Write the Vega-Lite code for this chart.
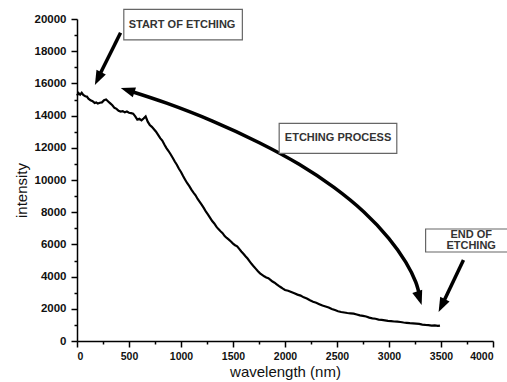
{
  "$schema": "https://vega.github.io/schema/vega-lite/v6.json",
  "width": 416,
  "height": 322,
  "autosize": "none",
  "padding": {"left": 77, "top": 19, "right": 14, "bottom": 41},
  "background": "white",
  "config": {
    "view": {"stroke": null},
    "font": "Liberation Sans",
    "axis": {"grid": false, "labelOverlap": false, "domainColor": "black", "domainWidth": 1.5, "tickColor": "black", "tickWidth": 1.5, "labelFont": "Liberation Sans", "labelFontWeight": "bold", "labelColor": "#111", "titleFont": "Liberation Sans", "titleFontWeight": "normal", "titleColor": "#111", "titleFontSize": 15}
  },
  "encoding": {
    "x": {"field": "x", "type": "quantitative", "title": "wavelength (nm)",
      "scale": {"domain": [0, 4000], "nice": false},
      "axis": {"values": [0,250,500,750,1000,1250,1500,1750,2000,2250,2500,2750,3000,3250,3500,3750,4000],
        "format": "d", "labelFontSize": 10.5, "labelPadding": 4, "titlePadding": 3, "labelOverlap": false,
        "labelOpacity": {"condition": {"test": "datum.value % 500 !== 0", "value": 0}, "value": 1},
        "tickSize": {"condition": {"test": "datum.value % 500 !== 0", "value": 3}, "value": 6}}},
    "y": {"field": "y", "type": "quantitative", "title": "intensity",
      "scale": {"domain": [0, 20000], "nice": false},
      "axis": {"values": [0,1000,2000,3000,4000,5000,6000,7000,8000,9000,10000,11000,12000,13000,14000,15000,16000,17000,18000,19000,20000],
        "format": "d", "labelFontSize": 11.5, "labelPadding": 5, "titlePadding": 5, "titleY": 171, "labelOverlap": false,
        "labelOpacity": {"condition": {"test": "datum.value % 2000 !== 0", "value": 0}, "value": 1},
        "tickSize": {"condition": {"test": "datum.value % 2000 !== 0", "value": 3}, "value": 6}}}
  },
  "layer": [
    {
      "data": {"values": [
        {"x":0,"y":15250},{"x":15,"y":15400},{"x":30,"y":15300},{"x":45,"y":15420},{"x":60,"y":15280},{"x":80,"y":15200},{"x":95,"y":15180},{"x":110,"y":15050},{"x":130,"y":14950},{"x":150,"y":14900},{"x":170,"y":14780},{"x":185,"y":14820},{"x":200,"y":14750},{"x":220,"y":14800},{"x":240,"y":14820},{"x":260,"y":14950},{"x":280,"y":15000},{"x":300,"y":14880},{"x":320,"y":14760},{"x":340,"y":14640},{"x":360,"y":14480},{"x":380,"y":14420},{"x":400,"y":14300},{"x":420,"y":14250},{"x":440,"y":14280},{"x":460,"y":14200},{"x":480,"y":14250},{"x":500,"y":14180},{"x":520,"y":14150},{"x":540,"y":14120},{"x":560,"y":13950},{"x":580,"y":13750},{"x":600,"y":13800},{"x":620,"y":13700},{"x":640,"y":13820},{"x":660,"y":13950},{"x":680,"y":13620},{"x":700,"y":13420},{"x":720,"y":13300},{"x":740,"y":13150},{"x":760,"y":13000},{"x":780,"y":12800},{"x":800,"y":12600},{"x":820,"y":12450},{"x":840,"y":12200},{"x":860,"y":11980},{"x":880,"y":11800},{"x":900,"y":11600},{"x":920,"y":11380},{"x":940,"y":11150},{"x":960,"y":10950},{"x":980,"y":10700},{"x":1000,"y":10500},{"x":1020,"y":10250},{"x":1040,"y":10020},{"x":1060,"y":9800},{"x":1080,"y":9620},{"x":1100,"y":9400},{"x":1120,"y":9220},{"x":1140,"y":9050},{"x":1160,"y":8820},{"x":1180,"y":8640},{"x":1200,"y":8450},{"x":1220,"y":8250},{"x":1240,"y":8030},{"x":1260,"y":7850},{"x":1280,"y":7650},{"x":1300,"y":7450},{"x":1320,"y":7300},{"x":1340,"y":7100},{"x":1360,"y":6950},{"x":1380,"y":6820},{"x":1400,"y":6700},{"x":1420,"y":6520},{"x":1440,"y":6400},{"x":1460,"y":6300},{"x":1480,"y":6180},{"x":1500,"y":6050},{"x":1520,"y":5950},{"x":1540,"y":5880},{"x":1560,"y":5720},{"x":1580,"y":5560},{"x":1600,"y":5420},{"x":1620,"y":5260},{"x":1640,"y":5120},{"x":1660,"y":4950},{"x":1680,"y":4780},{"x":1700,"y":4620},{"x":1720,"y":4480},{"x":1740,"y":4330},{"x":1760,"y":4200},{"x":1780,"y":4110},{"x":1800,"y":4020},{"x":1820,"y":3950},{"x":1840,"y":3900},{"x":1860,"y":3800},{"x":1880,"y":3690},{"x":1900,"y":3620},{"x":1920,"y":3520},{"x":1940,"y":3420},{"x":1960,"y":3340},{"x":1980,"y":3250},{"x":2000,"y":3170},{"x":2030,"y":3120},{"x":2060,"y":3040},{"x":2090,"y":2960},{"x":2120,"y":2880},{"x":2150,"y":2820},{"x":2180,"y":2710},{"x":2210,"y":2640},{"x":2240,"y":2530},{"x":2270,"y":2440},{"x":2300,"y":2380},{"x":2330,"y":2290},{"x":2360,"y":2200},{"x":2390,"y":2140},{"x":2420,"y":2080},{"x":2450,"y":1990},{"x":2480,"y":1920},{"x":2510,"y":1850},{"x":2540,"y":1800},{"x":2570,"y":1770},{"x":2600,"y":1740},{"x":2630,"y":1720},{"x":2660,"y":1700},{"x":2690,"y":1650},{"x":2720,"y":1590},{"x":2750,"y":1560},{"x":2780,"y":1520},{"x":2810,"y":1450},{"x":2840,"y":1410},{"x":2870,"y":1380},{"x":2900,"y":1330},{"x":2930,"y":1310},{"x":2960,"y":1280},{"x":2990,"y":1250},{"x":3020,"y":1230},{"x":3050,"y":1210},{"x":3080,"y":1200},{"x":3110,"y":1180},{"x":3140,"y":1150},{"x":3170,"y":1130},{"x":3200,"y":1110},{"x":3230,"y":1100},{"x":3260,"y":1080},{"x":3290,"y":1060},{"x":3320,"y":1020},{"x":3350,"y":1000},{"x":3380,"y":990},{"x":3410,"y":960},{"x":3440,"y":970},{"x":3470,"y":940},{"x":3490,"y":960}
      ]},
      "mark": {"type": "line", "color": "black", "strokeWidth": 2.2}
    },
    {
      "data": {"values": [
        {"arrow":"start","i":0,"x":419,"y":19149},{"arrow":"start","i":1,"x":206,"y":16385},
        {"arrow":"process","i":0,"x":494,"y":15559},{"arrow":"process","i":1,"x":862,"y":14770},{"arrow":"process","i":2,"x":1303,"y":13658},{"arrow":"process","i":3,"x":1753,"y":12317},{"arrow":"process","i":4,"x":2136,"y":10975},{"arrow":"process","i":5,"x":2471,"y":9540},{"arrow":"process","i":6,"x":2759,"y":8012},{"arrow":"process","i":7,"x":2998,"y":6379},{"arrow":"process","i":8,"x":3161,"y":4901},{"arrow":"process","i":9,"x":3257,"y":3665},{"arrow":"process","i":10,"x":3295,"y":2795},
        {"arrow":"end","i":0,"x":3716,"y":5031},{"arrow":"end","i":1,"x":3511,"y":2248}
      ]},
      "mark": {"type": "line", "color": "black", "strokeWidth": 3.5, "interpolate": "catmull-rom"},
      "encoding": {
        "detail": {"field": "arrow"},
        "order": {"field": "i"}
      }
    },
    {
      "data": {"values": [{"x":172,"y":15901}]},
      "mark": {"type": "point", "filled": true, "color": "black", "opacity": 1, "size": 169, "angle": 206, "shape": "M0,0L-0.8,2.2L0.8,2.2Z"}
    },
    {
      "data": {"values": [{"x":421,"y":15714}]},
      "mark": {"type": "point", "filled": true, "color": "black", "opacity": 1, "size": 169, "angle": 288, "shape": "M0,0L-0.8,2.2L0.8,2.2Z"}
    },
    {
      "data": {"values": [{"x":3314,"y":2236}]},
      "mark": {"type": "point", "filled": true, "color": "black", "opacity": 1, "size": 169, "angle": 162, "shape": "M0,0L-0.8,2.2L0.8,2.2Z"}
    },
    {
      "data": {"values": [{"x":3477,"y":1801}]},
      "mark": {"type": "point", "filled": true, "color": "black", "opacity": 1, "size": 169, "angle": 206, "shape": "M0,0L-0.8,2.2L0.8,2.2Z"}
    },
    {
      "data": {"values": [
        {"x":450,"x2":1590,"y":20600,"y2":18700},
        {"x":1944,"x2":3075,"y":13522,"y2":11658},
        {"x":3352,"x2":4200,"y":6957,"y2":5528}
      ]},
      "mark": {"type": "rect", "fill": "white", "stroke": "#666", "strokeWidth": 1.2},
      "encoding": {
        "x2": {"field": "x2"},
        "y2": {"field": "y2"}
      }
    },
    {
      "data": {"values": [
        {"x":1010,"y":19627,"t":"START OF ETCHING"},
        {"x":2510,"y":12609,"t":"ETCHING PROCESS"},
        {"x":3790,"y":6584,"t":"END OF"},
        {"x":3790,"y":5901,"t":"ETCHING"}
      ]},
      "mark": {"type": "text", "font": "Liberation Sans", "fontWeight": "bold", "fontSize": 11, "color": "#333", "align": "center", "baseline": "middle"},
      "encoding": {
        "text": {"field": "t"}
      }
    }
  ]
}
